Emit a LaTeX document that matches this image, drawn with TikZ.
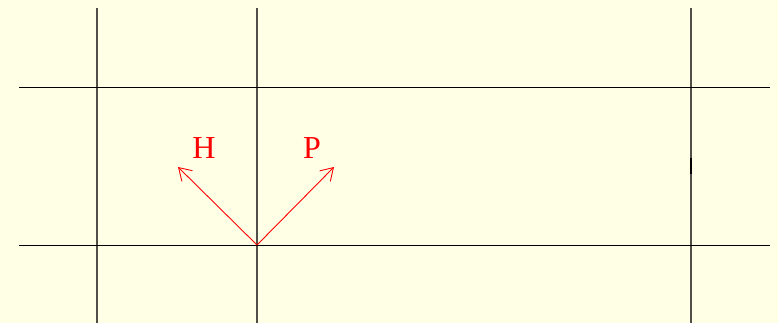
\documentclass[tikz,border=0pt]{standalone}
\usepackage{fontspec}
\setmainfont{Liberation Serif}
\usetikzlibrary{arrows.meta}
\definecolor{bg}{HTML}{FFFFE6}
\definecolor{vline}{HTML}{505048}
\begin{document}
\begin{tikzpicture}[x=1pt,y=-1pt,
  hline/.style={black,line width=0.9pt},
  vln/.style={vline,line width=1.1pt},
  vec/.style={red,line width=0.9pt,-{Straight Barb[length=12pt,width=15pt]}},
  lbl/.style={red,font=\fontsize{32}{36}\selectfont,inner sep=0pt}]
\fill[bg] (0,0) rectangle (778,323);
\useasboundingbox (0,0) rectangle (778,323);
\coordinate (v1t) at (97,8); \coordinate (v1b) at (97,323);
\coordinate (v2t) at (257,8); \coordinate (v2b) at (257,323);
\coordinate (v3t) at (691,8); \coordinate (v3b) at (691,323);
\coordinate (h1l) at (19,87); \coordinate (h1r) at (770,87);
\coordinate (h2l) at (19,245); \coordinate (h2r) at (770,245);
\draw[vln] (v1t) -- (v1b);
\draw[vln] (v2t) -- (v2b);
\draw[vln] (v3t) -- (v3b);
\coordinate (tk1) at (691,158); \coordinate (tk2) at (691,174);
\draw[black,line width=1.5pt] (tk1) -- (tk2);
\draw[hline] (h1l) -- (h1r);
\draw[hline] (h2l) -- (h2r);
\coordinate (o) at (257,245);
\coordinate (ht) at (178,167);
\coordinate (pt) at (334,167);
\draw[vec] (o) -- (ht);
\draw[vec] (o) -- (pt);
\node[lbl] (H) at (204,148) {H};
\node[lbl] (P) at (312,148) {P};
\end{tikzpicture}
\end{document}
